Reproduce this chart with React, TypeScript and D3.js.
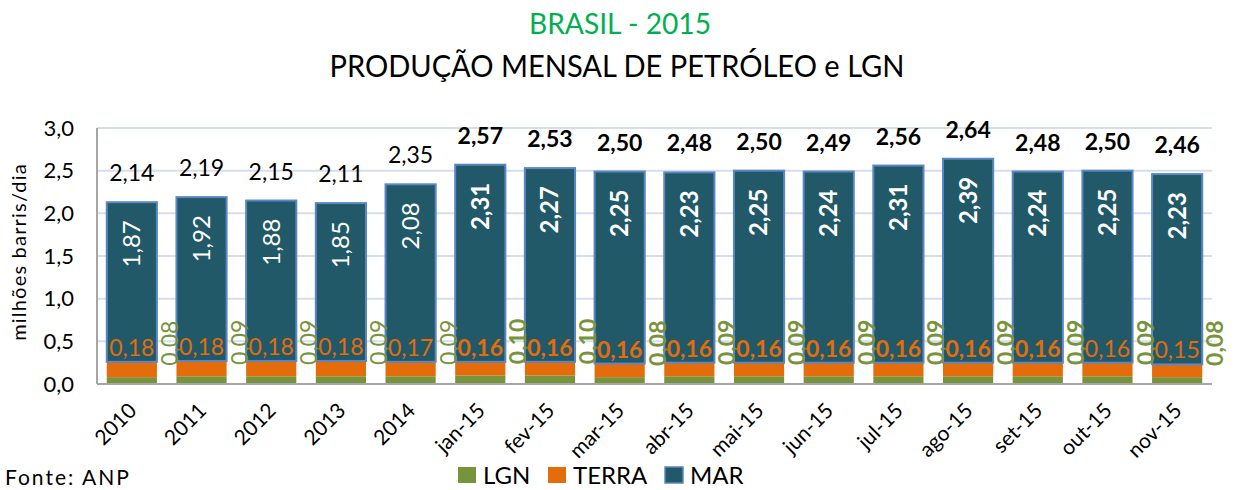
import { useEffect, useRef } from 'react';
import * as d3 from 'd3';

const categories = ['2010', '2011', '2012', '2013', '2014', 'jan-15', 'fev-15', 'mar-15', 'abr-15', 'mai-15', 'jun-15', 'jul-15', 'ago-15', 'set-15', 'out-15', 'nov-15'];
const lgn = [0.08, 0.09, 0.09, 0.09, 0.09, 0.1, 0.1, 0.08, 0.09, 0.09, 0.09, 0.09, 0.09, 0.09, 0.09, 0.08];
const terra = [0.18, 0.18, 0.18, 0.18, 0.17, 0.16, 0.16, 0.16, 0.16, 0.16, 0.16, 0.16, 0.16, 0.16, 0.16, 0.15];
const mar = [1.87, 1.92, 1.88, 1.85, 2.08, 2.31, 2.27, 2.25, 2.23, 2.25, 2.24, 2.31, 2.39, 2.24, 2.25, 2.23];
const total = [2.14, 2.19, 2.15, 2.11, 2.35, 2.57, 2.53, 2.5, 2.48, 2.5, 2.49, 2.56, 2.64, 2.48, 2.5, 2.46];
// label weights (the 2015 months are bold)
const boldMain = [false, false, false, false, false, true, true, true, true, true, true, true, true, true, true, true];
const boldTerra = [false, false, false, false, false, true, true, true, true, true, true, true, true, true, false, false];
const yTicks = [0, 0.5, 1, 1.5, 2, 2.5, 3];

const FONT = 'Lato, "Open Sans", sans-serif';
const C_LGN = '#77933C';
const C_TERRA = '#E46C0A';
const C_MAR = '#215968';
const fmt = (v: number, n: number) => v.toFixed(n).replace('.', ',');

export default function App() {
  const svgRef = useRef<SVGSVGElement>(null);

  useEffect(() => {
    if (!svgRef.current) return;
    document.body.style.margin = '0';
    const svg = d3.select(svgRef.current);
    svg.selectAll('*').remove();

    const left = 97, right = 1212, top = 128, bottom = 384;

    const x = d3.scaleBand().domain(categories).range([left, right]).paddingInner(0.28).paddingOuter(0.14);
    const y = d3.scaleLinear().domain([0, 3]).range([bottom, top]);

    // títulos
    svg.append('text').attr('x', 620).attr('y', 34).attr('text-anchor', 'middle')
      .attr('font-family', FONT).attr('font-size', 29).attr('fill', '#00B050')
      .attr('textLength', 182).attr('lengthAdjust', 'spacingAndGlyphs').text('BRASIL - 2015');
    svg.append('text').attr('x', 617).attr('y', 77).attr('text-anchor', 'middle')
      .attr('font-family', FONT).attr('font-size', 31).attr('fill', '#000')
      .attr('textLength', 575).attr('lengthAdjust', 'spacingAndGlyphs').text('PRODUÇÃO MENSAL DE PETRÓLEO e LGN');

    // grade
    svg.append('g').selectAll('line').data(yTicks.filter((t) => t > 0)).join('line')
      .attr('x1', left).attr('x2', right).attr('y1', (d) => y(d)).attr('y2', (d) => y(d))
      .attr('stroke', '#D5DFEC').attr('stroke-width', 2);

    // eixo y
    svg.append('g').selectAll('text').data(yTicks).join('text')
      .attr('x', 74).attr('y', (d) => y(d)).attr('dy', '0.35em').attr('text-anchor', 'end')
      .attr('font-family', FONT).attr('font-size', 22).attr('fill', '#000')
      .text((d) => fmt(d, 1));
    svg.append('text').attr('transform', `translate(26,252) rotate(-90)`).attr('text-anchor', 'middle')
      .attr('font-family', FONT).attr('font-size', 20).attr('letter-spacing', 1.2).text('milhões barris/dia');

    const bw = x.bandwidth();
    const g = svg.append('g');
    categories.forEach((c, i) => {
      const x0 = x(c)!;
      const b1 = lgn[i], b2 = lgn[i] + terra[i], b3 = lgn[i] + terra[i] + mar[i];
      g.append('rect').attr('x', x0).attr('width', bw).attr('y', y(b1)).attr('height', y(0) - y(b1)).attr('fill', C_LGN);
      g.append('rect').attr('x', x0).attr('width', bw).attr('y', y(b2)).attr('height', y(b1) - y(b2)).attr('fill', C_TERRA);
      g.append('rect').attr('x', x0).attr('width', bw).attr('y', y(b3)).attr('height', y(b2) - y(b3))
        .attr('fill', C_MAR).attr('stroke', '#5B87C5').attr('stroke-width', 2);
    });

    // eixos
    svg.append('line').attr('x1', left).attr('x2', left).attr('y1', top).attr('y2', bottom).attr('stroke', '#A6A6A6').attr('stroke-width', 2);
    svg.append('line').attr('x1', left).attr('x2', right).attr('y1', bottom).attr('y2', bottom).attr('stroke', '#A6A6A6').attr('stroke-width', 2);

    // rótulos
    categories.forEach((c, i) => {
      const cx = x(c)! + bw / 2;
      const stackTop = y(lgn[i] + terra[i] + mar[i]);
      g.append('text').attr('x', cx).attr('y', stackTop - 21).attr('text-anchor', 'middle')
        .attr('font-family', FONT).attr('font-size', 23).attr('font-weight', boldMain[i] ? 'bold' : 'normal')
        .attr('fill', '#000').text(fmt(total[i], 2));
      g.append('text').attr('transform', `translate(${cx},${stackTop + 18}) rotate(-90)`)
        .attr('text-anchor', 'end').attr('dy', '0.35em')
        .attr('font-family', FONT).attr('font-size', 24).attr('font-weight', boldMain[i] ? 'bold' : 'normal')
        .attr('fill', '#fff').text(fmt(mar[i], 2));
      g.append('text').attr('x', cx).attr('y', y(lgn[i] + terra[i]) - 6).attr('text-anchor', 'middle')
        .attr('font-family', FONT).attr('font-size', 23).attr('font-weight', boldTerra[i] ? 'bold' : 'normal')
        .attr('fill', C_TERRA).text(fmt(terra[i], 2));
      g.append('text').attr('transform', `translate(${cx + 38},${y(lgn[i]) - 34}) rotate(-90)`)
        .attr('text-anchor', 'middle').attr('dy', '0.35em')
        .attr('font-family', FONT).attr('font-size', 23).attr('font-weight', boldMain[i] ? 'bold' : 'normal')
        .attr('fill', C_LGN).text(fmt(lgn[i], 2));
    });

    // eixo x
    svg.append('g').selectAll('text').data(categories).join('text')
      .attr('transform', (d) => `translate(${x(d)! + bw / 2 + 6},${bottom + 28}) rotate(-45)`)
      .attr('text-anchor', 'end').attr('font-family', FONT).attr('font-size', 21).attr('fill', '#000')
      .text((d) => d);

    // legenda
    const legendItems = [
      { name: 'LGN', color: C_LGN, x: 458 },
      { name: 'TERRA', color: C_TERRA, x: 548 },
      { name: 'MAR', color: C_MAR, x: 665 },
    ];
    const lg = svg.append('g');
    legendItems.forEach((it) => {
      lg.append('rect').attr('x', it.x).attr('y', 467).attr('width', 18).attr('height', 16)
        .attr('fill', it.color).attr('stroke', it.name === 'MAR' ? '#5B87C5' : 'none').attr('stroke-width', 1.5);
      lg.append('text').attr('x', it.x + 25).attr('y', 484).attr('font-family', FONT).attr('font-size', 24)
        .attr('fill', '#000').text(it.name);
    });

    svg.append('text').attr('x', 5).attr('y', 485).attr('font-family', FONT).attr('font-size', 21)
      .attr('letter-spacing', 2).attr('fill', '#000').text('Fonte: ANP');
  }, []);

  return <svg ref={svgRef} width={1237} height={490} style={{ display: 'block', background: '#fff' }} />;
}
